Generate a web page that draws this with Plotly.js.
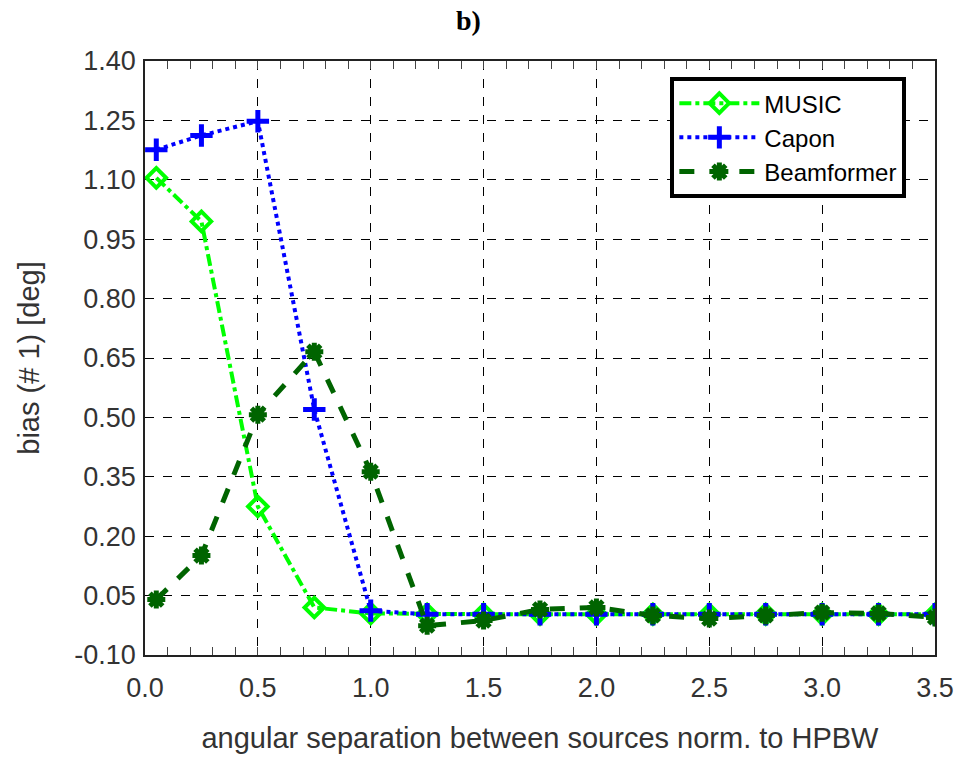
<!DOCTYPE html>
<html>
<head>
<meta charset="utf-8">
<script src="https://cdn.plot.ly/plotly-3.0.1.min.js"></script>
<style>html,body{margin:0;padding:0;background:#fff;}#chart{width:960px;height:758px;}</style>
</head>
<body>
<div id="chart"></div>
<script>
const separation = [0.05, 0.25, 0.5, 0.75, 1.0, 1.25, 1.5, 1.75, 2.0, 2.25, 2.5, 2.75, 3.0, 3.25, 3.5];
const music      = [1.105, 0.995, 0.275, 0.02, 0.005, 0.003, 0.003, 0.003, 0.003, 0.003, 0.003, 0.003, 0.003, 0.003, 0.003];
const capon      = [1.176, 1.212, 1.248, 0.52, 0.012, 0.003, 0.003, 0.003, 0.003, 0.003, 0.003, 0.003, 0.003, 0.003, 0.003];
const beamformer = [0.04, 0.151, 0.507, 0.666, 0.363, -0.026, -0.013, 0.015, 0.02, 0.0, -0.008, 0.0, 0.007, 0.005, -0.005];
const yTicks = [-0.10, 0.05, 0.20, 0.35, 0.50, 0.65, 0.80, 0.95, 1.10, 1.25, 1.40];
const xTickStart = 0.0, xTickStep = 0.5, xTickEnd = 3.5, xMinorStep = 0.1;

const traces = [
  {x: separation, y: music, name: 'MUSIC', mode: 'lines+markers',
   line: {color: '#00ff00', width: 4, dash: 'dashdot'},
   marker: {symbol: 'diamond-open', size: 15, color: '#00ff00', line: {color: '#00ff00', width: 4}}},
  {x: separation, y: capon, name: 'Capon', mode: 'lines+markers',
   line: {color: '#0000ff', width: 4, dash: 'dot'},
   marker: {symbol: 'cross-thin-open', size: 16, color: '#0000ff', line: {color: '#0000ff', width: 5}}},
  {x: separation, y: beamformer, name: 'Beamformer', mode: 'lines+markers', xaxis: 'x2',
   line: {color: '#006400', width: 5, dash: 'dash'},
   marker: {symbol: 'asterisk-open', size: 15, color: '#006400', line: {color: '#006400', width: 5}}}
];

const tickFont = {family: 'Liberation Sans, Arial, sans-serif', size: 27, color: '#333'};
const titleFont = {family: 'Liberation Sans, Arial, sans-serif', size: 29, color: '#333'};
const layout = {
  width: 960, height: 758,
  margin: {l: 145, r: 25, t: 61, b: 103},
  paper_bgcolor: '#fff', plot_bgcolor: '#fff',
  title: {text: '<b>b)</b>', x: 0.488, xref: 'container', y: 0.974, yanchor: 'middle',
          font: {family: 'Liberation Serif, Times New Roman, serif', size: 28, color: '#000'}},
  xaxis: {range: [xTickStart, xTickEnd], tickmode: 'linear', tick0: xTickStart, dtick: xTickStep, tickformat: '.1f',
          showgrid: true, gridcolor: '#000', griddash: 'dash', gridwidth: 1,
          showline: true, linecolor: '#222', linewidth: 1.5, mirror: true,
          ticks: '', tickfont: tickFont, zeroline: false, ticklabelstandoff: 8,
          title: {text: 'angular separation between sources norm. to HPBW', font: titleFont, standoff: 26}},
  xaxis2: {overlaying: 'x', anchor: 'y', range: [xTickStart, xTickEnd], side: 'bottom',
           tickmode: 'linear', tick0: xTickStart, dtick: xMinorStep,
           ticks: 'inside', ticklen: 8, tickcolor: '#444', tickwidth: 1.2, mirror: 'allticks',
           showticklabels: false, showgrid: false, zeroline: false, showline: true, linecolor: '#222', linewidth: 1.5},
  yaxis: {range: [-0.10, 1.40], tickvals: yTicks, ticktext: yTicks.map(v => v.toFixed(2)),
          showgrid: true, gridcolor: '#000', griddash: 'dash', gridwidth: 1,
          showline: true, linecolor: '#222', linewidth: 1.5, mirror: true,
          ticks: '', tickfont: tickFont, zeroline: false, ticklabelstandoff: 2,
          title: {text: 'bias (# 1) [deg]', font: titleFont, standoff: 26}},
  legend: {x: 0.665, y: 0.973, xanchor: 'left', yanchor: 'top', bgcolor: '#fff',
           bordercolor: '#000', borderwidth: 4,
           font: {family: 'Liberation Sans, Arial, sans-serif', size: 24, color: '#000'},
           tracegroupgap: 0, itemwidth: 80},
  showlegend: true
};
Plotly.newPlot('chart', traces, layout, {displayModeBar: false});
</script>
</body>
</html>
